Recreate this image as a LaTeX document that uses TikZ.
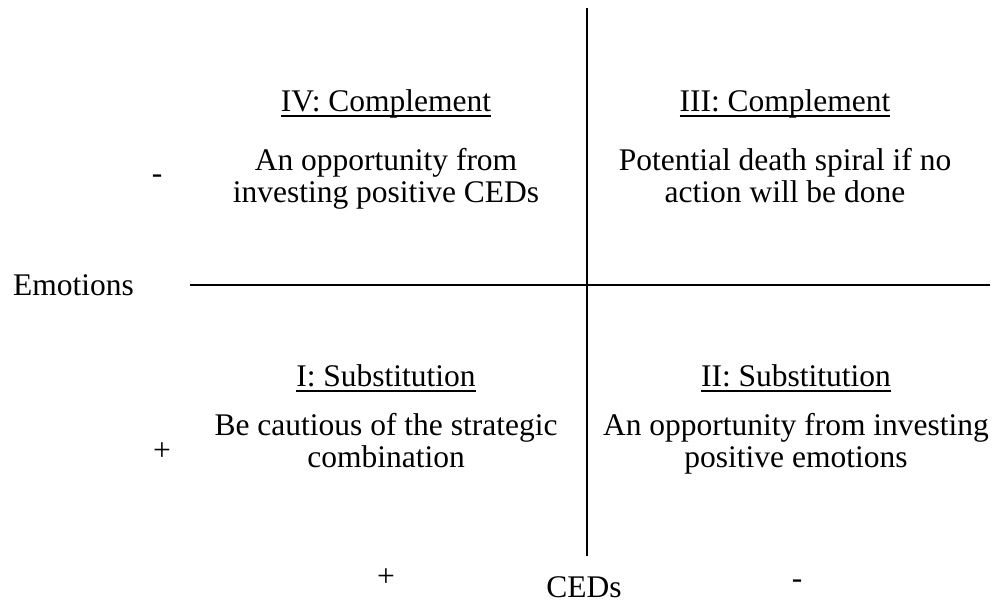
\documentclass[tikz,border=0pt]{standalone}
\usepackage{fontspec}
\setmainfont{Liberation Serif}
% underline set a fixed distance below the baseline
\newcommand\quadul[1]{\setbox0\hbox{#1}\rlap{\rule[-5.5pt]{\wd0}{1.4pt}}\box0}
\begin{document}
\begin{tikzpicture}[x=1pt,y=-1pt,
  lbl/.style={inner sep=0pt,anchor=base,font=\fontsize{31.5}{32}\selectfont},
  body/.style={lbl,align=center},
  axis/.style={line width=2pt}]
\useasboundingbox (0,0) rectangle (995,603);
% axes
\coordinate (vtop) at (587,8);
\coordinate (vbot) at (587,556);
\coordinate (hl) at (190,285);
\coordinate (hr) at (990,285);
\draw[axis] (vtop) -- (vbot);
\draw[axis] (hl) -- (hr);
% axis labels
\node[lbl,anchor=base west] (emo) at (13,295) {Emotions};
\node[lbl] (emominus) at (157,183) {-};
\node[lbl] (emoplus) at (162,460) {+};
\node[lbl] (ceds) at (584,597) {CEDs};
\node[lbl] (cedplus) at (386,586) {+};
\node[lbl] (cedminus) at (797,588) {-};
% quadrant IV
\node[lbl] (q4t) at (386,111) {\quadul{IV: Complement}};
\node[body] (q4b) at (386,202) {An opportunity from\\investing positive CEDs};
% quadrant III
\node[lbl] (q3t) at (785,111) {\quadul{III: Complement}};
\node[body] (q3b) at (785,202) {Potential death spiral if no\\action will be done};
% quadrant I
\node[lbl] (q1t) at (386,386) {\quadul{I: Substitution}};
\node[body] (q1b) at (386,467) {Be cautious of the strategic\\combination};
% quadrant II
\node[lbl] (q2t) at (796,386) {\quadul{II: Substitution}};
\node[body] (q2b) at (796,467) {An opportunity from investing\\positive emotions};
\end{tikzpicture}
\end{document}
